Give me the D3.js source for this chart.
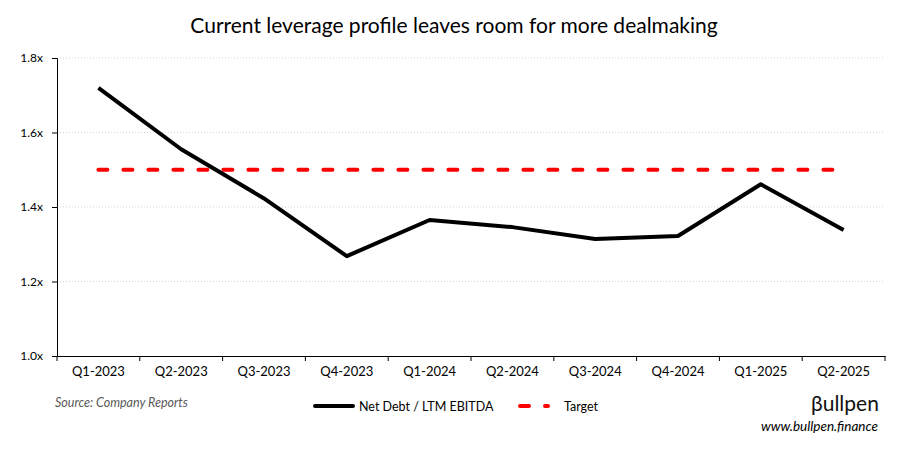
<!DOCTYPE html>
<html>
<head>
<meta charset="utf-8">
<script src="https://cdn.jsdelivr.net/npm/d3@7"></script>
<style>
  body { margin: 0; background: #fff; }
  text { font-family: "Lato", "Open Sans", sans-serif; }
</style>
</head>
<body>
<div id="chart"></div>
<script>
// data
var quarters = ["Q1-2023", "Q2-2023", "Q3-2023", "Q4-2023", "Q1-2024",
                "Q2-2024", "Q3-2024", "Q4-2024", "Q1-2025", "Q2-2025"];
var leverage = [1.72, 1.555, 1.423, 1.268, 1.365, 1.346, 1.314, 1.322, 1.461, 1.338];
var target = [1.5, 1.5, 1.5, 1.5, 1.5, 1.5, 1.5, 1.5, 1.5, 1.5];
var yTicks = [1.0, 1.2, 1.4, 1.6, 1.8];

var W = 906, H = 449;
var margin = {top: 58, right: 21, bottom: 93, left: 57},
    width = W - margin.left - margin.right,
    height = H - margin.top - margin.bottom;

var svg = d3.select("#chart").append("svg")
    .attr("width", W)
    .attr("height", H);

svg.append("text")
    .attr("x", W / 2 + 1)
    .attr("y", 33)
    .attr("text-anchor", "middle")
    .style("font-size", "21px")
    .text("Current leverage profile leaves room for more dealmaking");

var g = svg.append("g")
    .attr("transform", "translate(" + margin.left + "," + margin.top + ")");

var x = d3.scaleBand().domain(quarters).range([0, width]);
var y = d3.scaleLinear().domain([1.0, 1.8]).range([height, 0]);

// gridlines
g.selectAll(".grid")
    .data(yTicks.slice(1))
  .enter().append("line")
    .attr("x1", 0)
    .attr("x2", width)
    .attr("y1", function(d) { return y(d); })
    .attr("y2", function(d) { return y(d); })
    .attr("stroke", "#d6d6d6")
    .attr("stroke-width", 1)
    .attr("stroke-dasharray", "1,2");

// y axis
var yAxis = g.append("g")
    .call(d3.axisLeft(y).tickValues(yTicks).tickSize(5).tickPadding(9)
      .tickFormat(function(d) { return d.toFixed(1) + "x"; }));
yAxis.selectAll("text").style("font-size", "12px").attr("fill", "#000");
yAxis.select(".domain").attr("stroke", "#000");

// x axis, ticks between categories
var xAxis = g.append("g")
    .attr("transform", "translate(0," + height + ")")
    .call(d3.axisBottom(x).tickSize(0).tickPadding(11));
xAxis.selectAll("text").style("font-size", "13px").attr("fill", "#000");
xAxis.select(".domain").attr("stroke", "#000");
xAxis.selectAll(".sep")
    .data(d3.range(quarters.length + 1))
  .enter().append("line")
    .attr("x1", function(i) { return i * x.bandwidth(); })
    .attr("x2", function(i) { return i * x.bandwidth(); })
    .attr("y1", 0)
    .attr("y2", 5)
    .attr("stroke", "#000");

var cx = function(d, i) { return x(quarters[i]) + x.bandwidth() / 2; };

// target
g.append("path")
    .datum(target)
    .attr("fill", "none")
    .attr("stroke", "#ff0000")
    .attr("stroke-width", 4)
    .attr("stroke-linecap", "round")
    .attr("stroke-dasharray", "9,16")
    .attr("d", d3.line().x(cx).y(function(d) { return y(d); }));

// leverage
g.append("path")
    .datum(leverage)
    .attr("fill", "none")
    .attr("stroke", "#000")
    .attr("stroke-width", 4)
    .attr("stroke-linejoin", "round")
    .attr("d", d3.line().x(cx).y(function(d) { return y(d); }));

// source
svg.append("text")
    .attr("x", 55)
    .attr("y", 407)
    .style("font-size", "12.5px")
    .style("font-style", "italic")
    .attr("fill", "#595959")
    .text("Source: Company Reports");

// legend
var leg = svg.append("g").attr("transform", "translate(0,406)");
leg.append("line")
    .attr("x1", 315).attr("x2", 353).attr("y1", 0).attr("y2", 0)
    .attr("stroke", "#000").attr("stroke-width", 4).attr("stroke-linecap", "round");
leg.append("text")
    .attr("x", 359).attr("y", 4.5)
    .style("font-size", "12.5px")
    .text("Net Debt / LTM EBITDA");
leg.append("line")
    .attr("x1", 520).attr("x2", 548).attr("y1", 0).attr("y2", 0)
    .attr("stroke", "#ff0000").attr("stroke-width", 4).attr("stroke-linecap", "round")
    .attr("stroke-dasharray", "9,16");
leg.append("text")
    .attr("x", 564).attr("y", 4.5)
    .style("font-size", "12.5px")
    .text("Target");

// logo
svg.append("text")
    .attr("x", 811)
    .attr("y", 411)
    .style("font-size", "21px")
    .attr("fill", "#111")
    .text("βullpen");
svg.append("text")
    .attr("x", 878)
    .attr("y", 431)
    .attr("text-anchor", "end")
    .style("font-size", "13.5px")
    .style("font-style", "italic")
    .text("www.bullpen.finance");
</script>
</body>
</html>
